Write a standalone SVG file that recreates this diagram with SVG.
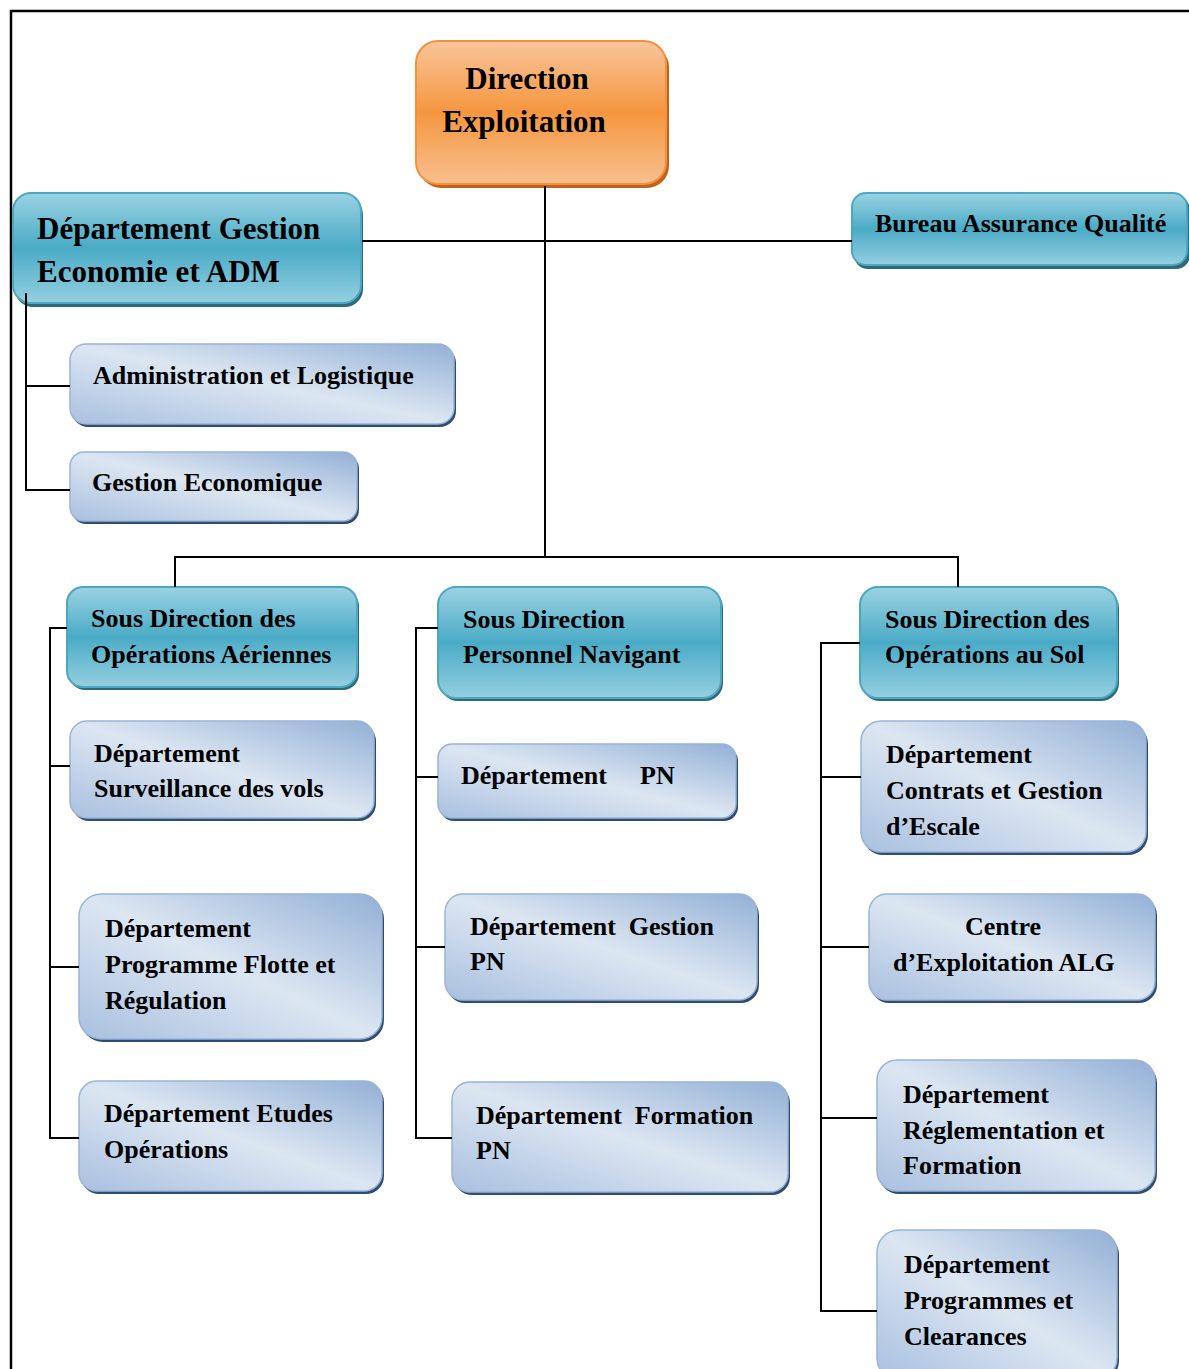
<svg xmlns="http://www.w3.org/2000/svg" width="1189" height="1369" viewBox="0 0 1189 1369">
  <defs>
    <linearGradient id="gOrange" x1="0" y1="0" x2="0" y2="1">
      <stop offset="0" stop-color="#f9c59b"/>
      <stop offset="0.5" stop-color="#f5963f"/>
      <stop offset="1" stop-color="#f8c08f"/>
    </linearGradient>
    <linearGradient id="gTeal" x1="0" y1="0" x2="0" y2="1">
      <stop offset="0" stop-color="#9bd2e2"/>
      <stop offset="0.5" stop-color="#4aabc7"/>
      <stop offset="1" stop-color="#95cfe0"/>
    </linearGradient>
    <linearGradient id="gBlue" x1="1" y1="0" x2="0" y2="1">
      <stop offset="0" stop-color="#93b0d6"/>
      <stop offset="0.5" stop-color="#dce6f2"/>
      <stop offset="1" stop-color="#a9c0df"/>
    </linearGradient>
    <style>
      text { font-family: "Liberation Serif", "Times New Roman", serif; font-weight: bold; fill: #000; }
      .t26 { font-size: 26px; }
      .t31 { font-size: 31px; }
      .frame { fill: none; stroke: #000; stroke-width: 2.5; }
      .link { fill: none; stroke: #000; stroke-width: 2; }
      .orange { fill: url(#gOrange); stroke: #f2923f; stroke-width: 2; }
      .orange-sh { fill: #c2621c; }
      .teal { fill: url(#gTeal); stroke: #4ca7c2; stroke-width: 2; }
      .teal-sh { fill: #2d6a7c; }
      .blue { fill: url(#gBlue); stroke: #9ab4d8; stroke-width: 1.5; }
      .blue-sh { fill: #2f4c74; }
    </style>
  </defs>

  <rect width="1189" height="1369" fill="#fff"/>
  <!-- page frame -->
  <path class="frame" d="M11,1369 V11 H1189"/>

  <!-- top level -->
  <g id="direction-exploitation">
    <rect class="orange-sh" x="419" y="45" width="250" height="143" rx="22"/>
    <rect class="orange" x="416" y="41" width="250" height="143" rx="22"/>
    <text class="t31" x="527" y="89" text-anchor="middle">Direction</text>
    <text class="t31" x="524" y="132" text-anchor="middle">Exploitation</text>
  </g>

  <g id="dept-gestion-economie">
    <rect class="teal-sh" x="15" y="197" width="348" height="110" rx="18"/>
    <rect class="teal" x="13" y="193" width="348" height="110" rx="18"/>
    <text class="t31" x="37" y="239">Département Gestion</text>
    <text class="t31" x="37" y="282">Economie et ADM</text>
  </g>

  <g id="bureau-assurance-qualite">
    <rect class="teal-sh" x="854" y="196" width="336" height="73" rx="14"/>
    <rect class="teal" x="852" y="193" width="335" height="72" rx="14"/>
    <text class="t26" x="875" y="232">Bureau Assurance Qualité</text>
  </g>

  <g id="administration-logistique">
    <rect class="blue-sh" x="72" y="347" width="384" height="80" rx="16"/>
    <rect class="blue" x="70" y="344" width="384" height="80" rx="16"/>
    <text class="t26" x="93" y="384">Administration et Logistique</text>
  </g>

  <g id="gestion-economique">
    <rect class="blue-sh" x="72" y="455" width="287" height="69" rx="14"/>
    <rect class="blue" x="70" y="452" width="287" height="69" rx="14"/>
    <text class="t26" x="92" y="491">Gestion Economique</text>
  </g>

  <!-- sub-directions -->
  <g id="sd-operations-aeriennes">
    <rect class="teal-sh" x="69" y="590" width="290" height="100" rx="16"/>
    <rect class="teal" x="67" y="587" width="290" height="100" rx="16"/>
    <text class="t26" x="91" y="627">Sous Direction des</text>
    <text class="t26" x="91" y="663">Opérations Aériennes</text>
  </g>

  <g id="sd-personnel-navigant">
    <rect class="teal-sh" x="440" y="590" width="283" height="111" rx="18"/>
    <rect class="teal" x="438" y="587" width="283" height="111" rx="18"/>
    <text class="t26" x="463" y="628">Sous Direction</text>
    <text class="t26" x="463" y="663">Personnel Navigant</text>
  </g>

  <g id="sd-operations-sol">
    <rect class="teal-sh" x="862" y="590" width="257" height="111" rx="18"/>
    <rect class="teal" x="860" y="587" width="257" height="111" rx="18"/>
    <text class="t26" x="885" y="628">Sous Direction des</text>
    <text class="t26" x="885" y="663">Opérations au Sol</text>
  </g>

  <!-- column 1 -->
  <g id="dept-surveillance-vols">
    <rect class="blue-sh" x="72" y="724" width="304" height="97" rx="17"/>
    <rect class="blue" x="70" y="721" width="304" height="97" rx="17"/>
    <text class="t26" x="94" y="762">Département</text>
    <text class="t26" x="94" y="797">Surveillance des vols</text>
  </g>

  <g id="dept-programme-flotte">
    <rect class="blue-sh" x="81" y="897" width="303" height="145" rx="22"/>
    <rect class="blue" x="79" y="894" width="303" height="145" rx="22"/>
    <text class="t26" x="105" y="937">Département</text>
    <text class="t26" x="105" y="973">Programme Flotte et</text>
    <text class="t26" x="105" y="1009">Régulation</text>
  </g>

  <g id="dept-etudes-operations">
    <rect class="blue-sh" x="81" y="1084" width="303" height="110" rx="18"/>
    <rect class="blue" x="79" y="1081" width="303" height="110" rx="18"/>
    <text class="t26" x="104" y="1122">Département Etudes</text>
    <text class="t26" x="104" y="1158">Opérations</text>
  </g>

  <!-- column 2 -->
  <g id="dept-pn">
    <rect class="blue-sh" x="440" y="747" width="298" height="74" rx="14"/>
    <rect class="blue" x="438" y="744" width="298" height="74" rx="14"/>
    <text class="t26" x="461" y="784">Département</text>
    <text class="t26" x="640" y="784">PN</text>
  </g>

  <g id="dept-gestion-pn">
    <rect class="blue-sh" x="447" y="897" width="312" height="106" rx="18"/>
    <rect class="blue" x="445" y="894" width="312" height="106" rx="18"/>
    <text class="t26" x="470" y="935" xml:space="preserve">Département  Gestion</text>
    <text class="t26" x="470" y="970">PN</text>
  </g>

  <g id="dept-formation-pn">
    <rect class="blue-sh" x="454" y="1085" width="336" height="110" rx="18"/>
    <rect class="blue" x="452" y="1082" width="336" height="110" rx="18"/>
    <text class="t26" x="476" y="1124" xml:space="preserve">Département  Formation</text>
    <text class="t26" x="476" y="1159">PN</text>
  </g>

  <!-- column 3 -->
  <g id="dept-contrats-escale">
    <rect class="blue-sh" x="863" y="724" width="285" height="131" rx="20"/>
    <rect class="blue" x="861" y="721" width="285" height="131" rx="20"/>
    <text class="t26" x="886" y="763">Département</text>
    <text class="t26" x="886" y="799">Contrats et Gestion</text>
    <text class="t26" x="886" y="835">d’Escale</text>
  </g>

  <g id="centre-exploitation-alg">
    <rect class="blue-sh" x="871" y="897" width="286" height="106" rx="18"/>
    <rect class="blue" x="869" y="894" width="286" height="106" rx="18"/>
    <text class="t26" x="965" y="935">Centre</text>
    <text class="t26" x="893" y="971">d’Exploitation ALG</text>
  </g>

  <g id="dept-reglementation-formation">
    <rect class="blue-sh" x="879" y="1063" width="278" height="131" rx="20"/>
    <rect class="blue" x="877" y="1060" width="278" height="131" rx="20"/>
    <text class="t26" x="903" y="1103">Département</text>
    <text class="t26" x="903" y="1139">Réglementation et</text>
    <text class="t26" x="903" y="1174">Formation</text>
  </g>

  <g id="dept-programmes-clearances">
    <rect class="blue-sh" x="879" y="1233" width="240" height="150" rx="22"/>
    <rect class="blue" x="877" y="1230" width="240" height="150" rx="22"/>
    <text class="t26" x="904" y="1273">Département</text>
    <text class="t26" x="904" y="1309">Programmes et</text>
    <text class="t26" x="904" y="1345">Clearances</text>
  </g>

  <!-- connectors -->
  <g id="connectors">
    <path class="link" d="M545,186 V557"/>
    <path class="link" d="M362,241 H852"/>
    <path class="link" d="M26,293 V490 H70 M26,386 H70"/>
    <path class="link" d="M175,587 V557 H958 V587"/>
    <path class="link" d="M67,628 H50 V1138 H79 M50,766 H70 M50,967 H79"/>
    <path class="link" d="M438,628 H416 V1138 H452 M416,777 H438 M416,947 H445"/>
    <path class="link" d="M860,643 H821 V1311 H877 M821,777 H861 M821,947 H869 M821,1118 H877"/>
  </g>
</svg>
